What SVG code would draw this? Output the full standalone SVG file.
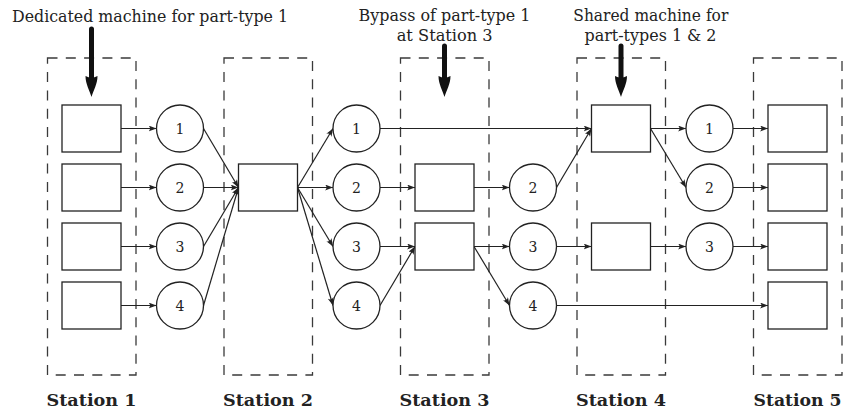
<svg xmlns="http://www.w3.org/2000/svg" width="845" height="411" viewBox="0 0 845 411">
  <style>
    .station { fill: none; stroke: #3a3a3a; stroke-width: 1.3; stroke-dasharray: 10 8.3; }
    .machine { fill: #ffffff; stroke: #222222; stroke-width: 1.3; }
    .buffer { fill: #ffffff; stroke: #222222; stroke-width: 1.3; }
    text { font-family: "DejaVu Serif", "Liberation Serif", serif; fill: #222222; text-anchor: middle; }
    .num { font-size: 14px; }
    .note { font-size: 16px; }
    .label { font-size: 17px; font-weight: bold; }
    .flow { fill: none; stroke: #222222; stroke-width: 1.2; marker-end: url(#tip); }
    .shaft { stroke: #111111; stroke-width: 5; stroke-linecap: round; }
    .head { fill: #111111; }
  </style>
  <defs>
    <marker id="tip" viewBox="0 0 8 6" refX="8" refY="3" markerWidth="8" markerHeight="6" markerUnits="userSpaceOnUse" orient="auto">
      <path d="M0,0 Q3,3 0,6 L8,3 Z" fill="#222222"/>
    </marker>
  </defs>

  <!-- station outlines -->
  <g id="stations">
    <rect class="station" x="47.5" y="58" width="88.5" height="317"/>
    <rect class="station" x="224" y="58" width="88.5" height="317"/>
    <rect class="station" x="400.5" y="58" width="88.5" height="317"/>
    <rect class="station" x="577" y="58" width="88.5" height="317"/>
    <rect class="station" x="753.5" y="58" width="88.5" height="317"/>
  </g>

  <!-- flows between machines and buffers -->
  <g id="connectors">
    <!-- station 1 machines to buffers -->
    <line class="flow" x1="121" y1="128.5" x2="156.5" y2="128.5"/>
    <line class="flow" x1="121" y1="187.5" x2="156.5" y2="187.5"/>
    <line class="flow" x1="121" y1="246.5" x2="156.5" y2="246.5"/>
    <line class="flow" x1="121" y1="305.5" x2="156.5" y2="305.5"/>
    <!-- buffers to station 2 -->
    <line class="flow" x1="203.5" y1="128.5" x2="238.5" y2="187.5"/>
    <line class="flow" x1="203.5" y1="187.5" x2="238.5" y2="187.5"/>
    <line class="flow" x1="203.5" y1="246.5" x2="238.5" y2="187.5"/>
    <line class="flow" x1="203.5" y1="305.5" x2="238.5" y2="187.5"/>
    <!-- station 2 to buffers -->
    <line class="flow" x1="297.5" y1="187.5" x2="333" y2="128.5"/>
    <line class="flow" x1="297.5" y1="187.5" x2="333" y2="187.5"/>
    <line class="flow" x1="297.5" y1="187.5" x2="333" y2="246.5"/>
    <line class="flow" x1="297.5" y1="187.5" x2="333" y2="305.5"/>
    <!-- buffers to station 3 / bypass -->
    <line class="flow" x1="380" y1="128.5" x2="591.5" y2="128.5"/>
    <line class="flow" x1="380" y1="187.5" x2="415" y2="187.5"/>
    <line class="flow" x1="380" y1="246.5" x2="415" y2="246.5"/>
    <line class="flow" x1="380" y1="305.5" x2="415" y2="246.5"/>
    <!-- station 3 to buffers -->
    <line class="flow" x1="474" y1="187.5" x2="509.5" y2="187.5"/>
    <line class="flow" x1="474" y1="246.5" x2="509.5" y2="246.5"/>
    <line class="flow" x1="474" y1="246.5" x2="509.5" y2="305.5"/>
    <!-- buffers to station 4 / station 5 -->
    <line class="flow" x1="556.5" y1="187.5" x2="591.5" y2="128.5"/>
    <line class="flow" x1="556.5" y1="246.5" x2="591.5" y2="246.5"/>
    <line class="flow" x1="556.5" y1="305.5" x2="768" y2="305.5"/>
    <!-- station 4 to buffers -->
    <line class="flow" x1="650.5" y1="128.5" x2="686" y2="128.5"/>
    <line class="flow" x1="650.5" y1="128.5" x2="686" y2="187.5"/>
    <line class="flow" x1="650.5" y1="246.5" x2="686" y2="246.5"/>
    <!-- buffers to station 5 -->
    <line class="flow" x1="733" y1="128.5" x2="768" y2="128.5"/>
    <line class="flow" x1="733" y1="187.5" x2="768" y2="187.5"/>
    <line class="flow" x1="733" y1="246.5" x2="768" y2="246.5"/>
  </g>

  <!-- station 1 machines -->
  <g id="m1-1"><rect class="machine" x="62" y="105" width="59" height="47"/></g>
  <g id="m1-2"><rect class="machine" x="62" y="164" width="59" height="47"/></g>
  <g id="m1-3"><rect class="machine" x="62" y="223" width="59" height="47"/></g>
  <g id="m1-4"><rect class="machine" x="62" y="282" width="59" height="47"/></g>

  <!-- buffers between stations 1 and 2 -->
  <g id="b1-1"><circle class="buffer" cx="180" cy="128.5" r="23.5"/><text class="num" x="180" y="133.5">1</text></g>
  <g id="b1-2"><circle class="buffer" cx="180" cy="187.5" r="23.5"/><text class="num" x="180" y="192.5">2</text></g>
  <g id="b1-3"><circle class="buffer" cx="180" cy="246.5" r="23.5"/><text class="num" x="180" y="251.5">3</text></g>
  <g id="b1-4"><circle class="buffer" cx="180" cy="305.5" r="23.5"/><text class="num" x="180" y="310.5">4</text></g>

  <!-- station 2 machine -->
  <g id="m2"><rect class="machine" x="238.5" y="164" width="59" height="47"/></g>

  <!-- buffers between stations 2 and 3 -->
  <g id="b2-1"><circle class="buffer" cx="356.5" cy="128.5" r="23.5"/><text class="num" x="356.5" y="133.5">1</text></g>
  <g id="b2-2"><circle class="buffer" cx="356.5" cy="187.5" r="23.5"/><text class="num" x="356.5" y="192.5">2</text></g>
  <g id="b2-3"><circle class="buffer" cx="356.5" cy="246.5" r="23.5"/><text class="num" x="356.5" y="251.5">3</text></g>
  <g id="b2-4"><circle class="buffer" cx="356.5" cy="305.5" r="23.5"/><text class="num" x="356.5" y="310.5">4</text></g>

  <!-- station 3 machines -->
  <g id="m3-2"><rect class="machine" x="415" y="164" width="59" height="47"/></g>
  <g id="m3-3"><rect class="machine" x="415" y="223" width="59" height="47"/></g>

  <!-- buffers between stations 3 and 4 -->
  <g id="b3-2"><circle class="buffer" cx="533" cy="187.5" r="23.5"/><text class="num" x="533" y="192.5">2</text></g>
  <g id="b3-3"><circle class="buffer" cx="533" cy="246.5" r="23.5"/><text class="num" x="533" y="251.5">3</text></g>
  <g id="b3-4"><circle class="buffer" cx="533" cy="305.5" r="23.5"/><text class="num" x="533" y="310.5">4</text></g>

  <!-- station 4 machines -->
  <g id="m4-1"><rect class="machine" x="591.5" y="105" width="59" height="47"/></g>
  <g id="m4-3"><rect class="machine" x="591.5" y="223" width="59" height="47"/></g>

  <!-- buffers between stations 4 and 5 -->
  <g id="b4-1"><circle class="buffer" cx="709.5" cy="128.5" r="23.5"/><text class="num" x="709.5" y="133.5">1</text></g>
  <g id="b4-2"><circle class="buffer" cx="709.5" cy="187.5" r="23.5"/><text class="num" x="709.5" y="192.5">2</text></g>
  <g id="b4-3"><circle class="buffer" cx="709.5" cy="246.5" r="23.5"/><text class="num" x="709.5" y="251.5">3</text></g>

  <!-- station 5 machines -->
  <g id="m5-1"><rect class="machine" x="768" y="105" width="59" height="47"/></g>
  <g id="m5-2"><rect class="machine" x="768" y="164" width="59" height="47"/></g>
  <g id="m5-3"><rect class="machine" x="768" y="223" width="59" height="47"/></g>
  <g id="m5-4"><rect class="machine" x="768" y="282" width="59" height="47"/></g>

  <!-- callouts -->
  <g id="note-dedicated">
    <text class="note" x="150" y="22" textLength="276" lengthAdjust="spacingAndGlyphs">Dedicated machine for part-type 1</text>
    <line class="shaft" x1="91.5" y1="29" x2="91.5" y2="80"/>
    <path class="head" d="M85.5,76 C85.5,84 89.5,90 91.5,97 C93.5,90 97.5,84 97.5,76 Q91.5,79 85.5,76 Z"/>
  </g>
  <g id="note-bypass">
    <text class="note" x="444.5" y="21" textLength="172" lengthAdjust="spacingAndGlyphs">Bypass of part-type 1</text>
    <text class="note" x="444.7" y="40.5" textLength="96" lengthAdjust="spacingAndGlyphs">at Station 3</text>
    <line class="shaft" x1="444.5" y1="46" x2="444.5" y2="80"/>
    <path class="head" d="M438.5,76 C438.5,84 442.5,90 444.5,97 C446.5,90 450.5,84 450.5,76 Q444.5,79 438.5,76 Z"/>
  </g>
  <g id="note-shared">
    <text class="note" x="650.8" y="21" textLength="155" lengthAdjust="spacingAndGlyphs">Shared machine for</text>
    <text class="note" x="650.5" y="40.5" textLength="132" lengthAdjust="spacingAndGlyphs">part-types 1 &amp; 2</text>
    <line class="shaft" x1="621" y1="46" x2="621" y2="80"/>
    <path class="head" d="M615,76 C615,84 619,90 621,97 C623,90 627,84 627,76 Q621,79 615,76 Z"/>
  </g>

  <!-- station labels -->
  <g id="labels">
    <text class="label" x="91.5" y="406" textLength="90" lengthAdjust="spacingAndGlyphs">Station 1</text>
    <text class="label" x="268" y="406" textLength="90" lengthAdjust="spacingAndGlyphs">Station 2</text>
    <text class="label" x="444.5" y="406" textLength="90" lengthAdjust="spacingAndGlyphs">Station 3</text>
    <text class="label" x="621" y="406" textLength="90" lengthAdjust="spacingAndGlyphs">Station 4</text>
    <text class="label" x="797.5" y="406" textLength="88" lengthAdjust="spacingAndGlyphs">Station 5</text>
  </g>
</svg>
